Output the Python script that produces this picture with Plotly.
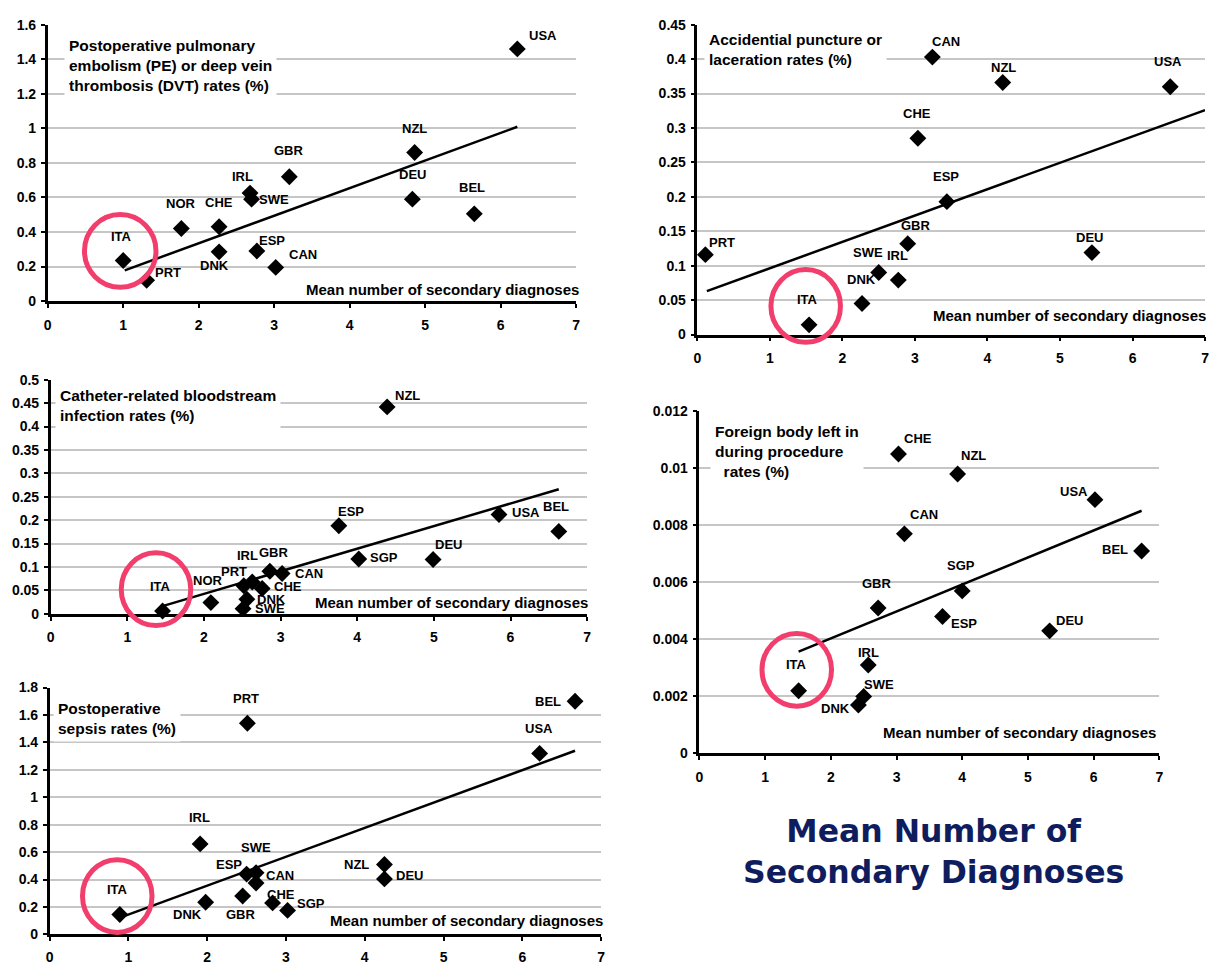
import plotly.graph_objects as go

W, H = 1217, 967

# ---------------- DATA ----------------
# Panel 1: Postoperative PE / DVT
pe_countries = ["USA", "NZL", "DEU", "BEL", "GBR", "IRL", "SWE", "CHE", "NOR", "DNK", "ESP", "CAN", "ITA", "PRT"]
pe_x = [6.22, 4.86, 4.83, 5.65, 3.20, 2.68, 2.70, 2.27, 1.77, 2.27, 2.77, 3.02, 1.00, 1.31]
pe_y = [1.46, 0.86, 0.59, 0.505, 0.72, 0.625, 0.59, 0.43, 0.42, 0.285, 0.29, 0.195, 0.235, 0.12]
pe_trend_x = [1.02, 6.22]
pe_trend_y = [0.178, 1.009]
pe_yticks = [0, 0.2, 0.4, 0.6, 0.8, 1, 1.2, 1.4, 1.6]
pe_yticklabels = ["0", "0.2", "0.4", "0.6", "0.8", "1", "1.2", "1.4", "1.6"]

# Panel 2: Accidental puncture or laceration
ap_countries = ["CAN", "NZL", "USA", "CHE", "ESP", "GBR", "DEU", "PRT", "SWE", "IRL", "DNK", "ITA"]
ap_x = [3.24, 4.21, 6.52, 3.04, 3.44, 2.90, 5.44, 0.11, 2.50, 2.77, 2.27, 1.54]
ap_y = [0.403, 0.366, 0.360, 0.285, 0.193, 0.132, 0.119, 0.116, 0.090, 0.079, 0.045, 0.014]
ap_trend_x = [0.13, 7.0]
ap_trend_y = [0.063, 0.326]
ap_yticks = [0, 0.05, 0.1, 0.15, 0.2, 0.25, 0.3, 0.35, 0.4, 0.45]
ap_yticklabels = ["0", "0.05", "0.1", "0.15", "0.2", "0.25", "0.3", "0.35", "0.4", "0.45"]

# Panel 3: Catheter-related bloodstream infection
cr_countries = ["NZL", "ESP", "USA", "BEL", "SGP", "DEU", "GBR", "IRL", "PRT", "CAN", "CHE", "DNK", "SWE", "NOR", "ITA"]
cr_x = [4.39, 3.76, 5.85, 6.63, 4.02, 4.99, 2.86, 2.63, 2.52, 3.02, 2.76, 2.56, 2.51, 2.09, 1.46]
cr_y = [0.442, 0.188, 0.212, 0.176, 0.117, 0.116, 0.091, 0.068, 0.060, 0.086, 0.054, 0.031, 0.011, 0.024, 0.006]
cr_trend_x = [1.47, 6.63]
cr_trend_y = [0.017, 0.266]
cr_yticks = [0, 0.05, 0.1, 0.15, 0.2, 0.25, 0.3, 0.35, 0.4, 0.45, 0.5]
cr_yticklabels = ["0", "0.05", "0.1", "0.15", "0.2", "0.25", "0.3", "0.35", "0.4", "0.45", "0.5"]

# Panel 4: Foreign body left in during procedure
fb_countries = ["CHE", "NZL", "USA", "CAN", "BEL", "SGP", "GBR", "ESP", "DEU", "IRL", "ITA", "SWE", "DNK"]
fb_x = [3.03, 3.93, 6.02, 3.12, 6.73, 4.00, 2.72, 3.70, 5.33, 2.57, 1.51, 2.50, 2.42]
fb_y = [0.0105, 0.0098, 0.0089, 0.0077, 0.0071, 0.0057, 0.0051, 0.0048, 0.0043, 0.0031, 0.0022, 0.0020, 0.0017]
fb_trend_x = [1.51, 6.73]
fb_trend_y = [0.00357, 0.00851]
fb_yticks = [0, 0.002, 0.004, 0.006, 0.008, 0.01, 0.012]
fb_yticklabels = ["0", "0.002", "0.004", "0.006", "0.008", "0.01", "0.012"]

# Panel 5: Postoperative sepsis
ps_countries = ["BEL", "PRT", "USA", "IRL", "NZL", "DEU", "SWE", "ESP", "CAN", "GBR", "CHE", "DNK", "SGP", "ITA"]
ps_x = [6.67, 2.51, 6.22, 1.91, 4.25, 4.25, 2.62, 2.50, 2.62, 2.45, 2.83, 1.98, 3.02, 0.89]
ps_y = [1.70, 1.54, 1.32, 0.66, 0.51, 0.405, 0.45, 0.44, 0.375, 0.28, 0.23, 0.235, 0.175, 0.145]
ps_trend_x = [0.91, 6.67]
ps_trend_y = [0.126, 1.339]
ps_yticks = [0, 0.2, 0.4, 0.6, 0.8, 1, 1.2, 1.4, 1.6, 1.8]
ps_yticklabels = ["0", "0.2", "0.4", "0.6", "0.8", "1", "1.2", "1.4", "1.6", "1.8"]

x_ticks = [0, 1, 2, 3, 4, 5, 6, 7]
x_label = "Mean number of secondary diagnoses"
big_label = "Mean Number of<br>Secondary Diagnoses"

# ---------------- STYLE / LAYOUT (page pixels) ----------------
pe_off = {"USA": (26, 13), "NZL": (0, 24), "DEU": (0, 25), "BEL": (-2, 26), "GBR": (0, 26),
          "IRL": (-8, 17), "SWE": (22, 0), "CHE": (0, 24), "NOR": (0, 25), "DNK": (-5, -14),
          "ESP": (15, 10), "CAN": (27, 13), "ITA": (-2, 24), "PRT": (21, 8)}
ap_off = {"CAN": (14, 16), "NZL": (1, 15), "USA": (-2, 25), "CHE": (-1, 25), "ESP": (-1, 25),
          "GBR": (8, 18), "DEU": (-2, 15), "PRT": (17, 12), "SWE": (-11, 20), "IRL": (-1, 25),
          "DNK": (-1, 24), "ITA": (-2, 25)}
cr_off = {"NZL": (20, 11), "ESP": (12, 14), "USA": (27, 2), "BEL": (-3, 25), "SGP": (25, 2),
          "DEU": (15, 15), "GBR": (4, 19), "IRL": (-5, 26), "PRT": (-10, 14), "CAN": (27, 0),
          "CHE": (26, 2), "DNK": (25, 0), "SWE": (27, 0), "NOR": (-3, 22), "ITA": (-2, 24)}
fb_off = {"CHE": (20, 15), "NZL": (16, 18), "USA": (-21, 8), "CAN": (20, 19), "BEL": (-27, 1),
          "SGP": (-1, 25), "GBR": (-1, 25), "ESP": (21, -7), "DEU": (20, 10), "IRL": (0, 13),
          "ITA": (-2, 26), "SWE": (15, 12), "DNK": (-23, -4)}
ps_off = {"BEL": (-27, 0), "PRT": (-1, 25), "USA": (-1, 25), "IRL": (-1, 26), "NZL": (-28, 0),
          "DEU": (25, 3), "SWE": (0, 25), "ESP": (-18, 10), "CAN": (24, 7), "GBR": (-2, -18),
          "CHE": (8, 8), "DNK": (-18, -12), "SGP": (23, 7), "ITA": (-2, 25)}

panels = [
    dict(c=pe_countries, x=pe_x, y=pe_y, tx=pe_trend_x, ty=pe_trend_y, yt=pe_yticks, ytl=pe_yticklabels,
         ymax=1.6, px=(44, 576, 298, 17), off=pe_off, standoff=5,
         title="Postoperative pulmonary<br>embolism (PE) or deep vein<br>thrombosis (DVT) rates (%)",
         tpos=(60, 24), xl=(581, 286), circ=(117, 247, 36, 37)),
    dict(c=ap_countries, x=ap_x, y=ap_y, tx=ap_trend_x, ty=ap_trend_y, yt=ap_yticks, ytl=ap_yticklabels,
         ymax=0.45, px=(698, 1209, 332, 17), off=ap_off, standoff=5,
         title="Accidential puncture or<br>laceration rates (%)",
         tpos=(705, 18), xl=(1212, 313), circ=(807, 303, 35, 37)),
    dict(c=cr_countries, x=cr_x, y=cr_y, tx=cr_trend_x, ty=cr_trend_y, yt=cr_yticks, ytl=cr_yticklabels,
         ymax=0.5, px=(47, 587, 616, 378), off=cr_off, standoff=5,
         title="Catheter-related bloodstream<br>infection rates (%)",
         tpos=(51, 380), xl=(590, 604), circ=(153, 591, 35, 37)),
    dict(c=fb_countries, x=fb_x, y=fb_y, tx=fb_trend_x, ty=fb_trend_y, yt=fb_yticks, ytl=fb_yticklabels,
         ymax=0.012, px=(700, 1163, 758, 410), off=fb_off, standoff=5,
         title="Foreign body left in<br>during procedure<br>&nbsp;&nbsp;rates (%)",
         tpos=(711, 417), xl=(1162, 737), circ=(798, 673, 35, 37)),
    dict(c=ps_countries, x=ps_x, y=ps_y, tx=ps_trend_x, ty=ps_trend_y, yt=ps_yticks, ytl=ps_yticklabels,
         ymax=1.8, px=(46, 601, 942, 691), off=ps_off, standoff=4,
         title="Postoperative<br>sepsis rates (%)",
         tpos=(49, 699), xl=(605, 928), circ=(114, 903, 35, 37)),
]


def px_x(X):
    return X / W


def px_y(Y):
    return 1 - Y / H


FONT = "Liberation Sans, Arial, sans-serif"
GRID = "#c6c6c6"
PINK = "#f23e6d"

fig = go.Figure()
layout = dict(width=W, height=H, margin=dict(l=0, r=0, t=0, b=0),
              paper_bgcolor="white", plot_bgcolor="white", showlegend=False,
              annotations=[], shapes=[])

for i, p in enumerate(panels, start=1):
    xa = "x" if i == 1 else f"x{i}"
    ya = "y" if i == 1 else f"y{i}"
    xk = "xaxis" if i == 1 else f"xaxis{i}"
    yk = "yaxis" if i == 1 else f"yaxis{i}"
    x0, x1, yb, yt = p["px"]
    layout[xk] = dict(domain=[px_x(x0), px_x(x1)], anchor=ya, range=[0, 7],
                      tickvals=x_ticks, ticktext=[str(t) for t in x_ticks],
                      showgrid=False, zeroline=False, showline=True, linecolor="black", linewidth=2.5,
                      ticks="outside", ticklen=4, tickwidth=2, tickcolor="black",
                      ticklabelstandoff=p["standoff"],
                      tickfont=dict(family=FONT, size=14, color="black", weight="bold"))
    layout[yk] = dict(domain=[px_y(yb), px_y(yt)], anchor=xa, range=[0, p["ymax"]],
                      tickvals=p["yt"], ticktext=p["ytl"],
                      showgrid=True, gridcolor=GRID, gridwidth=2, zeroline=False,
                      showline=True, linecolor="black", linewidth=2.5,
                      ticks="outside", ticklen=4, tickwidth=2, tickcolor="black",
                      ticklabelstandoff=2,
                      tickfont=dict(family=FONT, size=14, color="black", weight="bold"))
    fig.add_trace(go.Scatter(x=p["tx"], y=p["ty"], mode="lines", xaxis=xa, yaxis=ya,
                             line=dict(color="black", width=2.5), hoverinfo="skip", cliponaxis=False))
    fig.add_trace(go.Scatter(x=p["x"], y=p["y"], mode="markers", xaxis=xa, yaxis=ya,
                             marker=dict(symbol="diamond", size=13, color="black"),
                             text=p["c"], cliponaxis=False))
    for c, xv, yv in zip(p["c"], p["x"], p["y"]):
        dx, dy = p["off"][c]
        layout["annotations"].append(dict(x=xv, y=yv, xref=xa, yref=ya, text=f"<b>{c}</b>",
                                          showarrow=False, xshift=dx, yshift=dy,
                                          font=dict(family=FONT, size=13, color="black")))
    tx, ty = p["tpos"]
    layout["annotations"].append(dict(x=px_x(tx), y=px_y(ty), xref="paper", yref="paper",
                                      xanchor="left", yanchor="top", align="left",
                                      text=f"<b>{p['title']}</b>", showarrow=False,
                                      bgcolor="white", borderpad=4,
                                      font=dict(family=FONT, size=15.5, color="black")))
    lx, ly = p["xl"]
    layout["annotations"].append(dict(x=px_x(lx), y=px_y(ly), xref="paper", yref="paper",
                                      xanchor="right", yanchor="middle",
                                      text=f"<b>{x_label}</b>", showarrow=False,
                                      bgcolor="white", borderpad=1,
                                      font=dict(family=FONT, size=15, color="black")))
    cx, cy, rx, ry = p["circ"]
    layout["shapes"].append(dict(type="circle", xref="paper", yref="paper",
                                 x0=px_x(cx - rx), x1=px_x(cx + rx),
                                 y0=px_y(cy + ry), y1=px_y(cy - ry),
                                 line=dict(color=PINK, width=5), layer="above"))

layout["annotations"].append(dict(x=px_x(936), y=px_y(858), xref="paper", yref="paper",
                                  xanchor="center", yanchor="middle", align="center",
                                  text=f"<b>{big_label}</b>", showarrow=False,
                                  font=dict(family="DejaVu Sans, Verdana, sans-serif", size=31.5,
                                            color="#0f1d5e")))

fig.update_layout(**layout)
fig.write_html("out.html", config={"displayModeBar": False},
               post_script="document.body.style.margin='0px';document.body.style.overflow='hidden';")
